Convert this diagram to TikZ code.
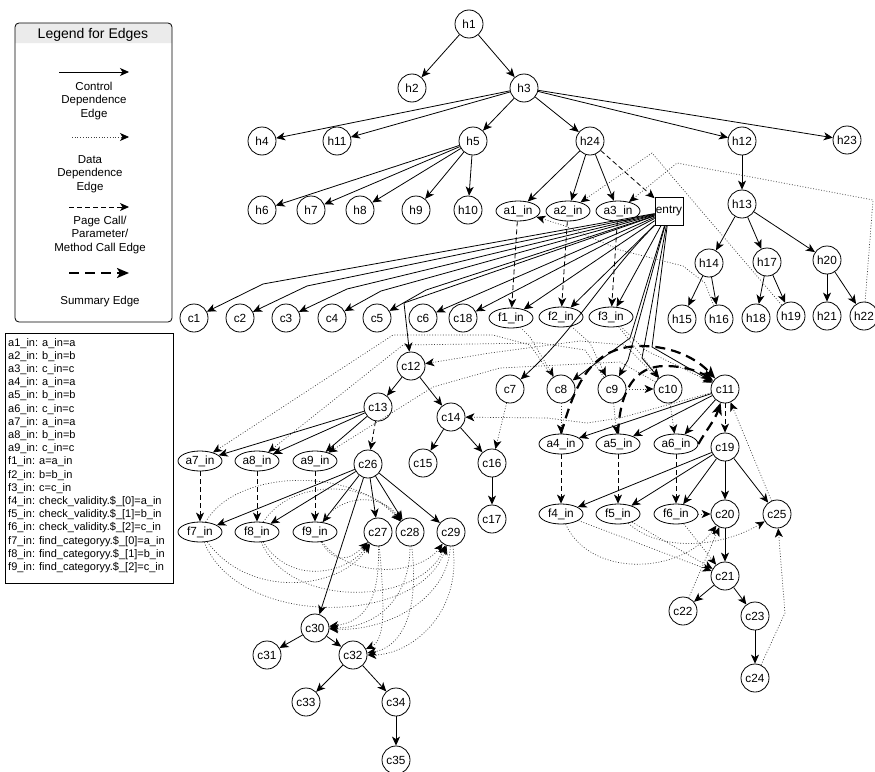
\documentclass[tikz,border=0pt]{standalone}
\usepackage{fontspec}
\setmainfont{Liberation Sans}
\usetikzlibrary{arrows.meta,shapes.geometric}
\begin{document}
\begin{tikzpicture}[x=1pt,y=-1pt,
  >={Stealth[length=9pt,width=8pt,inset=2.5pt]},
  every node/.style={font=\fontsize{11.8}{13}\selectfont},
  cnode/.style={circle,draw,line width=0.8pt,minimum size=28pt,inner sep=0pt},
  enode/.style={ellipse,draw,line width=0.8pt,minimum width=44pt,minimum height=20pt,inner sep=0pt},
  snode/.style={rectangle,draw,line width=0.8pt,minimum size=28pt,inner sep=0pt},
  ctrl/.style={->,line width=0.8pt},
  dat/.style={-{Stealth[length=9pt,width=8pt,inset=2.5pt,color=black]},line width=0.7pt,draw=black!75,dash pattern=on 0.9pt off 1.8pt},
  pcall/.style={->,line width=0.8pt,dash pattern=on 5pt off 3pt},
  summ/.style={-{Stealth[length=12pt,width=10pt,inset=3pt]},line width=2.2pt,dash pattern=on 10pt off 6pt},
  legtxt/.style={align=center,font=\fontsize{11.5}{13.5}\selectfont}
]
\useasboundingbox (0,0) rectangle (875,771);

% ---------- legend 1 ----------
\fill[black!8] (15,43) [rounded corners=4pt] -- (15,23) -- (172,23) [sharp corners] -- (172,43) -- cycle;
\draw[line width=0.8pt,rounded corners=4pt] (15,23) rectangle (172,322);
\node[font=\fontsize{14}{16}\selectfont] (legtitle) at (93,35) {Legend for Edges};
\coordinate (l1a) at (59,72);  \coordinate (l1b) at (129,72);
\draw[ctrl] (l1a) -- (l1b);
\node[legtxt] (legc) at (94,101) {Control\\Dependence\\Edge};
\coordinate (l2a) at (72,137); \coordinate (l2b) at (129,137);
\draw[dat] (l2a) -- (l2b);
\node[legtxt] (legd) at (90,174) {Data\\Dependence\\Edge};
\coordinate (l3a) at (69,207); \coordinate (l3b) at (129,207);
\draw[pcall] (l3a) -- (l3b);
\node[legtxt] (legp) at (100,235) {Page Call/\\Parameter/\\Method Call Edge};
\coordinate (l4a) at (69,273); \coordinate (l4b) at (129,273);
\draw[summ] (l4a) -- (l4b);
\node[legtxt] (legs) at (100,302) {Summary Edge};

% ---------- legend 2 ----------
\draw[line width=0.8pt] (5,333) rectangle (173,583);
\node[anchor=north west,align=left,inner sep=0pt,font=\fontsize{11}{13.2}\selectfont] (params) at (8,338) {%
a1\_in: a\_in=a\\
a2\_in: b\_in=b\\
a3\_in: c\_in=c\\
a4\_in: a\_in=a\\
a5\_in: b\_in=b\\
a6\_in: c\_in=c\\
a7\_in: a\_in=a\\
a8\_in: b\_in=b\\
a9\_in: c\_in=c\\
f1\_in: a=a\_in\\
f2\_in: b=b\_in\\
f3\_in: c=c\_in\\
f4\_in: check\_validity.\$\_[0]=a\_in\\
f5\_in: check\_validity.\$\_[1]=b\_in\\
f6\_in: check\_validity.\$\_[2]=c\_in\\
f7\_in: find\_categoryy.\$\_[0]=a\_in\\
f8\_in: find\_categoryy.\$\_[1]=b\_in\\
f9\_in: find\_categoryy.\$\_[2]=c\_in};

% ---------- nodes ----------
\node[cnode] (h1) at (469,24) {h1};
\node[cnode] (h2) at (412,88) {h2};
\node[cnode] (h3) at (524,88) {h3};
\node[cnode] (h4) at (262,141) {h4};
\node[cnode] (h11) at (337,141) {h11};
\node[cnode] (h5) at (473,141) {h5};
\node[cnode] (h24) at (590,141) {h24};
\node[cnode] (h12) at (742,141) {h12};
\node[cnode] (h23) at (847,140) {h23};
\node[cnode] (h6) at (262,210) {h6};
\node[cnode] (h7) at (311,210) {h7};
\node[cnode] (h8) at (360,210) {h8};
\node[cnode] (h9) at (416,210) {h9};
\node[cnode] (h10) at (468,210) {h10};
\node[enode] (a1) at (518,211) {a1\_in};
\node[enode] (a2) at (568,211) {a2\_in};
\node[enode] (a3) at (618,211) {a3\_in};
\node[snode] (entry) at (669,211) {entry};
\node[cnode] (h13) at (742,204) {h13};
\node[cnode] (h14) at (709,263) {h14};
\node[cnode] (h17) at (767,262) {h17};
\node[cnode] (h20) at (827,260) {h20};
\node[cnode] (h15) at (682,319) {h15};
\node[cnode] (h16) at (719,319) {h16};
\node[cnode] (h18) at (756,318) {h18};
\node[cnode] (h19) at (791,316) {h19};
\node[cnode] (h21) at (827,316) {h21};
\node[cnode] (h22) at (864,316) {h22};

\node[cnode] (c1) at (194,318) {c1};
\node[cnode] (c2) at (240,318) {c2};
\node[cnode] (c3) at (286,318) {c3};
\node[cnode] (c4) at (332,318) {c4};
\node[cnode] (c5) at (377,318) {c5};
\node[cnode] (c6) at (423,318) {c6};
\node[cnode] (c18) at (463,318) {c18};
\node[enode] (f1) at (511,318) {f1\_in};
\node[enode] (f2) at (561,317) {f2\_in};
\node[enode] (f3) at (611,317) {f3\_in};

\node[cnode] (c12) at (411,366) {c12};
\node[cnode] (c7) at (510,389) {c7};
\node[cnode] (c8) at (561,389) {c8};
\node[cnode] (c9) at (612,389) {c9};
\node[cnode] (c10) at (668,389) {c10};
\node[cnode] (c11) at (725,389) {c11};
\node[cnode] (c13) at (378,407) {c13};
\node[cnode] (c14) at (451,417) {c14};
\node[enode] (a4) at (561,444) {a4\_in};
\node[enode] (a5) at (618,444) {a5\_in};
\node[enode] (a6) at (676,444) {a6\_in};
\node[cnode] (c19) at (725,447) {c19};
\node[cnode] (c15) at (423,463) {c15};
\node[cnode] (c16) at (492,463) {c16};
\node[cnode] (c17) at (492,519) {c17};
\node[enode] (a7) at (200,461) {a7\_in};
\node[enode] (a8) at (257,461) {a8\_in};
\node[enode] (a9) at (315,461) {a9\_in};
\node[cnode] (c26) at (368,464) {c26};
\node[enode] (f4) at (561,514) {f4\_in};
\node[enode] (f5) at (618,514) {f5\_in};
\node[enode] (f6) at (676,514) {f6\_in};
\node[cnode] (c20) at (725,514) {c20};
\node[cnode] (c25) at (777,514) {c25};
\node[enode] (f7) at (200,532) {f7\_in};
\node[enode] (f8) at (257,532) {f8\_in};
\node[enode] (f9) at (315,532) {f9\_in};
\node[cnode] (c27) at (378,532) {c27};
\node[cnode] (c28) at (410,532) {c28};
\node[cnode] (c29) at (451,532) {c29};
\node[cnode] (c21) at (725,576) {c21};
\node[cnode] (c22) at (683,611) {c22};
\node[cnode] (c23) at (755,616) {c23};
\node[cnode] (c24) at (755,678) {c24};
\node[cnode] (c30) at (315,628) {c30};
\node[cnode] (c31) at (267,655) {c31};
\node[cnode] (c32) at (353,655) {c32};
\node[cnode] (c33) at (306,702) {c33};
\node[cnode] (c34) at (396,702) {c34};
\node[cnode] (c35) at (396,760) {c35};

% ---------- control dependence ----------
\foreach \s/\t in {h1/h2,h1/h3,h3/h4,h3/h11,h3/h5,h3/h24,h3/h12,h3/h23,
  h5/h6,h5/h7,h5/h8,h5/h9,h5/h10,h24/a1,h24/a2,h24/a3,h12/h13,
  h13/h14,h13/h17,h13/h20,h14/h15,h14/h16,h17/h18,h17/h19,h20/h21,h20/h22,
  entry/c6,entry/c18,entry/f1,entry/f2,entry/f3,
  c11/a4,c11/a5,c11/a6,c19/f4,c19/f5,c19/f6,c19/c20,c19/c25,
  c20/c21,c21/c22,c21/c23,c23/c24,
  c12/c13,c12/c14,c14/c15,c14/c16,c16/c17,
  c13/a7,c13/a8,c13/a9,
  c26/f7,c26/f8,c26/f9,c26/c27,c26/c28,c26/c29,c26/c30,
  c30/c31,c30/c32,c32/c33,c32/c34,c34/c35}
  \draw[ctrl] (\s) -- (\t);
\draw[ctrl] (entry) -- (263,284) -- (c1);
\draw[ctrl] (entry) -- (307,286) -- (c2);
\draw[ctrl] (entry) -- (347,289) -- (c3);
\draw[ctrl] (entry) -- (381,291) -- (c4);
\draw[ctrl] (entry) -- (426,290) -- (c5);
\draw[ctrl] (entry) -- (404,303) -- (c12);
\draw[ctrl] (entry) .. controls (605,275) and (575,330) .. (c7);
\draw[ctrl] (entry) -- (630,338) -- (c8);
\draw[ctrl] (entry) -- (628,360) -- (c9);
\draw[ctrl] (entry) -- (642,358) -- (c10);
\draw[ctrl] (entry) -- (652,347) -- (c11);

% ---------- call / parameter edges ----------
\draw[pcall] (h24) -- (entry);
\foreach \s/\t in {a1/f1,a2/f2,a3/f3,a4/f4,a5/f5,a6/f6,a7/f7,a8/f8,a9/f9,c11/c19,c13/c26}
  \draw[pcall] (\s) -- (\t);

% ---------- summary edges ----------
\draw[summ] (a4.north) .. controls (575,385) and (590,347) .. (640,346) .. controls (675,346) and (698,360) .. (c11);
\draw[summ] (a5.north) .. controls (620,390) and (635,366) .. (665,366) .. controls (690,366) and (705,375) .. (c11);
\draw[summ] (a6.east) .. controls (705,432) and (715,420) .. (c11);

% ---------- data dependence ----------
\draw[dat] (h19) -- (652,153) -- (a2);
\draw[dat] (h22) -- (873,200) -- (677,163) -- (a3);
\draw[dat] (h16) -- (705,283) -- (683,266) -- (620,250) -- (565,226) -- (a1);
\draw[dat] (f1) -- (530,337) -- (c8);
\draw[dat] (f2) -- (590,343) -- (c9);
\draw[dat] (f3) -- (c10);
\draw[dat] (f3) -- (645,350) -- (c11);
\draw[dat] (c9) -- (c10);
\draw[dat] (c8) -- (a4);
\draw[dat] (c9) -- (a5);
\draw[dat] (c10) -- (a6);
\draw[dat] (c7) -- (c16);
\draw[dat] (c11) -- (620,418) -- (587,423) -- (547,418) -- (c14);
\draw[dat] (c10) -- (625,345) -- (580,341) -- (490,353) -- (c12);
\draw[dat] (c8) -- (530,345) -- (493,335) -- (393,335) -- (a7);
\draw[dat] (c9) -- (585,350) -- (540,343) -- (403,345) -- (a8);
\draw[dat] (c10) -- (620,362) -- (500,368) -- (433,387) -- (a9);
\draw[dat] (f4) .. controls (590,578) and (680,575) .. (c20);
\draw[dat] (f4) -- (c21);
\draw[dat] (f5) -- (c21);
\draw[dat] (f6) -- (c21);
\draw[dat] (f6) -- (c20);
\draw[dat] (f5) .. controls (660,552) and (720,548) .. (c25);
\draw[dat] (c22) -- (c20);
\draw[dat] (c24) -- (785,613) -- (c25);
\draw[dat] (c25) -- (c11);
% call-site data edges
\draw[dat] (f7) .. controls (235,470) and (350,465) .. (c28);
\draw[dat] (f8) .. controls (290,480) and (365,478) .. (c28);
\draw[dat] (f9) .. controls (340,495) and (380,492) .. (c28);
\draw[dat] (f7) .. controls (250,600) and (340,590) .. (c27);
\draw[dat] (f8) .. controls (290,585) and (345,575) .. (c27);
\draw[dat] (f9) .. controls (335,565) and (350,560) .. (c27);
\draw[dat] (f7) .. controls (240,630) and (420,625) .. (c29);
\draw[dat] (f8) .. controls (290,610) and (420,605) .. (c29);
\draw[dat] (f9) .. controls (350,580) and (420,575) .. (c29);
\draw[dat] (c27) .. controls (380,600) and (365,622) .. (c30);
\draw[dat] (c27) .. controls (385,610) and (385,640) .. (c32);
\draw[dat] (c28) .. controls (410,600) and (375,628) .. (c30);
\draw[dat] (c28) .. controls (420,615) and (400,648) .. (c32);
\draw[dat] (c29) .. controls (448,600) and (385,632) .. (c30);
\draw[dat] (c29) .. controls (462,615) and (410,655) .. (c32);
\end{tikzpicture}
\end{document}
